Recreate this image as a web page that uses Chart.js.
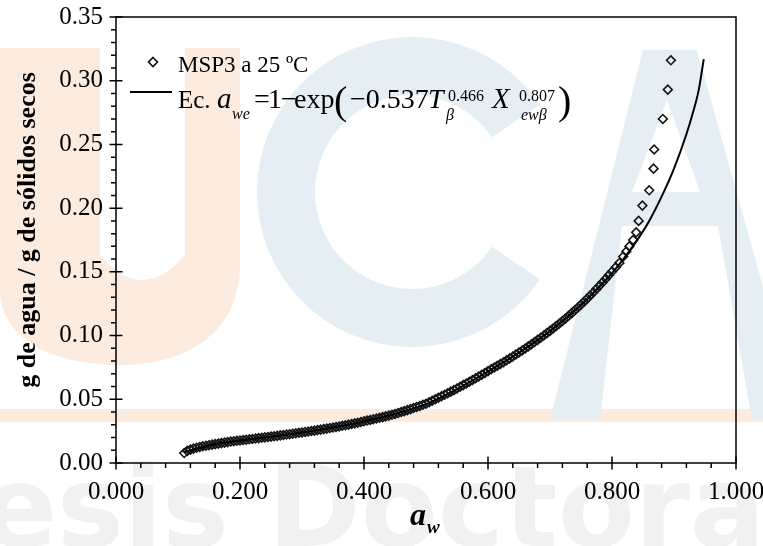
<!DOCTYPE html>
<html>
<head>
<meta charset="utf-8">
<title>MSP3 a 25 ºC</title>
<script src="https://cdn.jsdelivr.net/npm/chart.js@4.4.0/dist/chart.umd.min.js"></script>
<style>
  html, body { margin: 0; padding: 0; background: #fff; }
  #chart-wrapper { width: 763px; height: 546px; }
</style>
</head>
<body>
<div id="chart-wrapper"><canvas id="isotherm-chart" width="763" height="546"></canvas></div>
<script>
// experimental points: water activity and equilibrium moisture (g agua / g s.s.)
const awData = [
  0.110, 0.115, 0.120, 0.125, 0.130, 0.135, 0.140, 0.145, 0.150, 0.155,
  0.160, 0.165, 0.170, 0.175, 0.180, 0.185, 0.190, 0.195, 0.200, 0.205,
  0.210, 0.215, 0.220, 0.225, 0.230, 0.235, 0.240, 0.245, 0.250, 0.255,
  0.260, 0.265, 0.270, 0.275, 0.280, 0.285, 0.290, 0.295, 0.300, 0.305,
  0.310, 0.315, 0.320, 0.325, 0.330, 0.335, 0.340, 0.345, 0.350, 0.355,
  0.360, 0.365, 0.370, 0.375, 0.380, 0.385, 0.390, 0.395, 0.400, 0.405,
  0.410, 0.415, 0.420, 0.425, 0.430, 0.435, 0.440, 0.445, 0.450, 0.455,
  0.460, 0.465, 0.470, 0.475, 0.480, 0.485, 0.490, 0.495, 0.500, 0.505,
  0.510, 0.515, 0.520, 0.525, 0.530, 0.535, 0.540, 0.545, 0.550, 0.555,
  0.560, 0.565, 0.570, 0.575, 0.580, 0.585, 0.590, 0.595, 0.600, 0.605,
  0.610, 0.615, 0.620, 0.625, 0.630, 0.635, 0.640, 0.645, 0.650, 0.655,
  0.660, 0.665, 0.670, 0.675, 0.680, 0.685, 0.690, 0.695, 0.700, 0.705,
  0.710, 0.715, 0.720, 0.725, 0.730, 0.735, 0.740, 0.745, 0.750, 0.755,
  0.760, 0.765, 0.770, 0.775, 0.780, 0.785, 0.790, 0.795, 0.800,
  0.806, 0.812, 0.818, 0.823, 0.828, 0.834, 0.839, 0.843, 0.849, 0.860,
  0.867, 0.868, 0.882, 0.890, 0.895
];
const moistureData = [
  0.0078, 0.0095, 0.0105, 0.0113, 0.0120, 0.0126, 0.0132, 0.0136, 0.0140, 0.0144,
  0.0148, 0.0152, 0.0156, 0.0160, 0.0164, 0.0168, 0.0171, 0.0174, 0.0177, 0.0180,
  0.0183, 0.0186, 0.0189, 0.0192, 0.0195, 0.0198, 0.0201, 0.0204, 0.0207, 0.0210,
  0.0213, 0.0217, 0.0220, 0.0223, 0.0226, 0.0230, 0.0233, 0.0237, 0.0240, 0.0244,
  0.0247, 0.0251, 0.0254, 0.0258, 0.0262, 0.0266, 0.0270, 0.0274, 0.0278, 0.0283,
  0.0287, 0.0292, 0.0296, 0.0301, 0.0306, 0.0311, 0.0316, 0.0322, 0.0327, 0.0333,
  0.0338, 0.0344, 0.0349, 0.0355, 0.0360, 0.0366, 0.0372, 0.0378, 0.0385, 0.0392,
  0.0400, 0.0407, 0.0415, 0.0423, 0.0432, 0.0440, 0.0448, 0.0457, 0.0465, 0.0477,
  0.0488, 0.0500, 0.0512, 0.0524, 0.0536, 0.0548, 0.0560, 0.0572, 0.0585, 0.0598,
  0.0611, 0.0624, 0.0638, 0.0651, 0.0665, 0.0679, 0.0693, 0.0707, 0.0721, 0.0735,
  0.0749, 0.0763, 0.0777, 0.0791, 0.0806, 0.0821, 0.0836, 0.0851, 0.0867, 0.0883,
  0.0899, 0.0915, 0.0932, 0.0949, 0.0966, 0.0983, 0.1001, 0.1019, 0.1037, 0.1056,
  0.1075, 0.1094, 0.1114, 0.1134, 0.1155, 0.1176, 0.1198, 0.1220, 0.1243, 0.1266,
  0.1290, 0.1315, 0.1340, 0.1366, 0.1392, 0.1419, 0.1446, 0.1474, 0.1503,
  0.1535, 0.1570, 0.1620, 0.1660, 0.1700, 0.1750, 0.1810, 0.1900, 0.2020, 0.2140,
  0.2310, 0.2460, 0.2700, 0.2930, 0.3160
];

// fitted equation curve
const fitAw = [
  0.110, 0.150, 0.200, 0.250, 0.300, 0.350, 0.400, 0.450, 0.500, 0.550,
  0.600, 0.650, 0.700, 0.750, 0.780, 0.800, 0.820, 0.840, 0.860, 0.880,
  0.900, 0.920, 0.930, 0.940, 0.948
];
const fitMoisture = [
  0.0085, 0.0138, 0.0176, 0.0207, 0.0240, 0.0279, 0.0326, 0.0384, 0.0462, 0.0580,
  0.0718, 0.0866, 0.1035, 0.1240, 0.1385, 0.1490, 0.1610, 0.1745, 0.1900, 0.2090,
  0.2310, 0.2580, 0.2740, 0.2930, 0.3170
];

const xTickValues = [0, 0.2, 0.4, 0.6, 0.8, 1.0];
const yTickValues = [0, 0.05, 0.1, 0.15, 0.2, 0.25, 0.3, 0.35];

const SERIF = "'Liberation Serif', 'DejaVu Serif', serif";

(function () {
  // faint university watermark behind the plot
  const watermarkPlugin = {
    id: "watermark",
    beforeDraw(chart) {
      const ctx = chart.ctx;
      ctx.save();
      ctx.fillStyle = "#ffffff";
      ctx.fillRect(0, 0, chart.width, chart.height);

      ctx.fillStyle = "#f1f1f1";
      ctx.font = "bold 112px 'DejaVu Sans', sans-serif";
      ctx.textBaseline = "alphabetic";
      const tWidth = ctx.measureText("T").width;
      ctx.fillText("Tesis Doctoral", -4 - tWidth, 546);

      // U
      ctx.fillStyle = "#fcece0";
      ctx.beginPath();
      ctx.moveTo(0, 48);
      ctx.lineTo(100, 48);
      ctx.lineTo(100, 255);
      ctx.quadraticCurveTo(142, 305, 185, 255);
      ctx.lineTo(185, 48);
      ctx.lineTo(240, 48);
      ctx.lineTo(240, 265);
      ctx.bezierCurveTo(240, 330, 190, 365, 120, 365);
      ctx.bezierCurveTo(40, 365, 0, 330, 0, 290);
      ctx.closePath();
      ctx.fill();
      ctx.fillRect(0, 409, chart.width, 13);

      // C
      ctx.fillStyle = "#e5eff3";
      const cx = 412, cy = 192, R = 155, r = 97, gap = 0.6;
      ctx.beginPath();
      ctx.arc(cx, cy, R, gap, 2 * Math.PI - gap);
      ctx.arc(cx, cy, r, 2 * Math.PI - gap, gap, true);
      ctx.closePath();
      ctx.fill();

      // A
      ctx.beginPath();
      ctx.moveTo(643, 50);
      ctx.lineTo(697, 50);
      ctx.lineTo(800, 420);
      ctx.lineTo(752, 420);
      ctx.lineTo(718, 226);
      ctx.lineTo(622, 226);
      ctx.lineTo(600, 420);
      ctx.lineTo(550, 420);
      ctx.closePath();
      ctx.moveTo(667, 100);
      ctx.lineTo(700, 192);
      ctx.lineTo(632, 192);
      ctx.closePath();
      ctx.fill("evenodd");
      ctx.restore();
    },
  };

  const drawDiamond = (ctx, x, y, r) => {
    ctx.beginPath();
    ctx.moveTo(x, y - r);
    ctx.lineTo(x + r, y);
    ctx.lineTo(x, y + r);
    ctx.lineTo(x - r, y);
    ctx.closePath();
    ctx.stroke();
  };

  const text = (ctx, str, x, y, font) => {
    ctx.font = font;
    ctx.fillText(str, x, y);
  };

  // frame, crossing major ticks, outside minor ticks, titles and legend
  const frameTicksPlugin = {
    id: "frameTicks",
    afterDraw(chart) {
      const { ctx, chartArea: a } = chart;
      const xs = chart.scales.x;
      const ys = chart.scales.y;
      ctx.save();
      ctx.strokeStyle = "#000";
      ctx.lineWidth = 1.5;
      ctx.strokeRect(a.left, a.top, a.right - a.left, a.bottom - a.top);

      ctx.beginPath();
      for (let i = 0; i <= 25; i++) {
        const px = xs.getPixelForValue(i * 0.04);
        ctx.moveTo(px, a.bottom);
        ctx.lineTo(px, a.bottom + 5);
      }
      for (let i = 0; i <= 35; i++) {
        const py = ys.getPixelForValue(i * 0.01);
        ctx.moveTo(a.left, py);
        ctx.lineTo(a.left - 5, py);
      }
      xTickValues.forEach((v) => {
        const px = xs.getPixelForValue(v);
        ctx.moveTo(px, a.bottom - 6.5);
        ctx.lineTo(px, a.bottom + 6.5);
      });
      yTickValues.forEach((v) => {
        const py = ys.getPixelForValue(v);
        ctx.moveTo(a.left - 6.5, py);
        ctx.lineTo(a.left + 6.5, py);
      });
      ctx.stroke();

      ctx.fillStyle = "#000";
      ctx.textBaseline = "alphabetic";
      ctx.textAlign = "center";

      // y title
      ctx.save();
      ctx.translate(35, 230);
      ctx.rotate(-Math.PI / 2);
      text(ctx, "g de agua / g de sólidos secos", 0, 0, "bold 26px " + SERIF);
      ctx.restore();

      // x title
      ctx.textAlign = "left";
      text(ctx, "a", 410, 525, "bold italic 32px " + SERIF);
      text(ctx, "w", 427, 533, "bold italic 19px " + SERIF);

      // legend
      ctx.lineWidth = 1.6;
      ctx.strokeStyle = "#111";
      drawDiamond(ctx, 153, 62, 4.5);
      text(ctx, "MSP3 a 25 ºC", 178, 72, "23px " + SERIF);

      ctx.lineWidth = 2;
      ctx.strokeStyle = "#000";
      ctx.beginPath();
      ctx.moveTo(130, 92);
      ctx.lineTo(172, 92);
      ctx.stroke();

      text(ctx, "Ec.", 178, 108, "25px " + SERIF);
      text(ctx, "a", 217, 108, "italic 29px " + SERIF);
      text(ctx, "we", 232, 119, "italic 16px " + SERIF);
      text(ctx, "=", 254, 108, "28px " + SERIF);
      text(ctx, "1", 268, 108, "28px " + SERIF);
      text(ctx, "\u2212", 281, 108, "28px " + SERIF);
      text(ctx, "exp", 294, 108, "28px " + SERIF);
      text(ctx, "(", 334, 114, "40px " + SERIF);
      text(ctx, "\u22120.537", 350, 108, "28px " + SERIF);
      text(ctx, "T", 428, 108, "italic 28px " + SERIF);
      text(ctx, "0.466", 448, 101, "16px " + SERIF);
      text(ctx, "\u03b2", 446, 120, "italic 16px " + SERIF);
      text(ctx, "X", 492, 108, "italic 29px " + SERIF);
      text(ctx, "0.807", 519, 101, "16px " + SERIF);
      text(ctx, "ew\u03b2", 521, 120, "italic 16px " + SERIF);
      text(ctx, ")", 558, 114, "40px " + SERIF);
      ctx.restore();
    },
  };

  const points = awData.map((aw, i) => ({ x: aw, y: moistureData[i] }));
  const fitLine = fitAw.map((aw, i) => ({ x: aw, y: fitMoisture[i] }));

  const tickFont = { family: SERIF, size: 25 };

  new Chart(document.getElementById("isotherm-chart").getContext("2d"), {
    type: "scatter",
    data: {
      datasets: [
        {
          label: "MSP3 a 25 ºC",
          data: points,
          pointStyle: "rectRot",
          pointRadius: 4.4,
          borderWidth: 1.6,
          borderColor: "#151515",
          backgroundColor: "rgba(0,0,0,0)",
          order: 1,
        },
        {
          label: "Ec.",
          data: fitLine,
          showLine: true,
          pointRadius: 0,
          borderColor: "#000",
          borderWidth: 2,
          cubicInterpolationMode: "monotone",
          order: 0,
        },
      ],
    },
    options: {
      responsive: false,
      animation: false,
      devicePixelRatio: 1,
      layout: { padding: { top: 17, right: 27, left: 0, bottom: 0 } },
      plugins: { legend: { display: false }, tooltip: { enabled: false } },
      scales: {
        x: {
          type: "linear",
          min: 0,
          max: 1,
          grid: { display: false, drawTicks: false },
          border: { display: false },
          afterBuildTicks: (scale) => {
            scale.ticks = xTickValues.map((v) => ({ value: v }));
          },
          afterFit: (scale) => {
            scale.height = 83;
            scale.paddingLeft = 0;
            scale.paddingRight = 0;
          },
          ticks: {
            color: "#000",
            font: tickFont,
            padding: 14,
            maxRotation: 0,
            autoSkip: false,
            callback: (v) => Number(v).toFixed(3),
          },
        },
        y: {
          type: "linear",
          min: 0,
          max: 0.35,
          grid: { display: false, drawTicks: false },
          border: { display: false },
          afterBuildTicks: (scale) => {
            scale.ticks = yTickValues.map((v) => ({ value: v }));
          },
          afterFit: (scale) => {
            scale.width = 116;
            scale.paddingTop = 0;
            scale.paddingBottom = 0;
          },
          ticks: {
            color: "#000",
            font: tickFont,
            padding: 13,
            autoSkip: false,
            callback: (v) => Number(v).toFixed(2),
          },
        },
      },
    },
    plugins: [watermarkPlugin, frameTicksPlugin],
  });
})();
</script>
</body>
</html>
